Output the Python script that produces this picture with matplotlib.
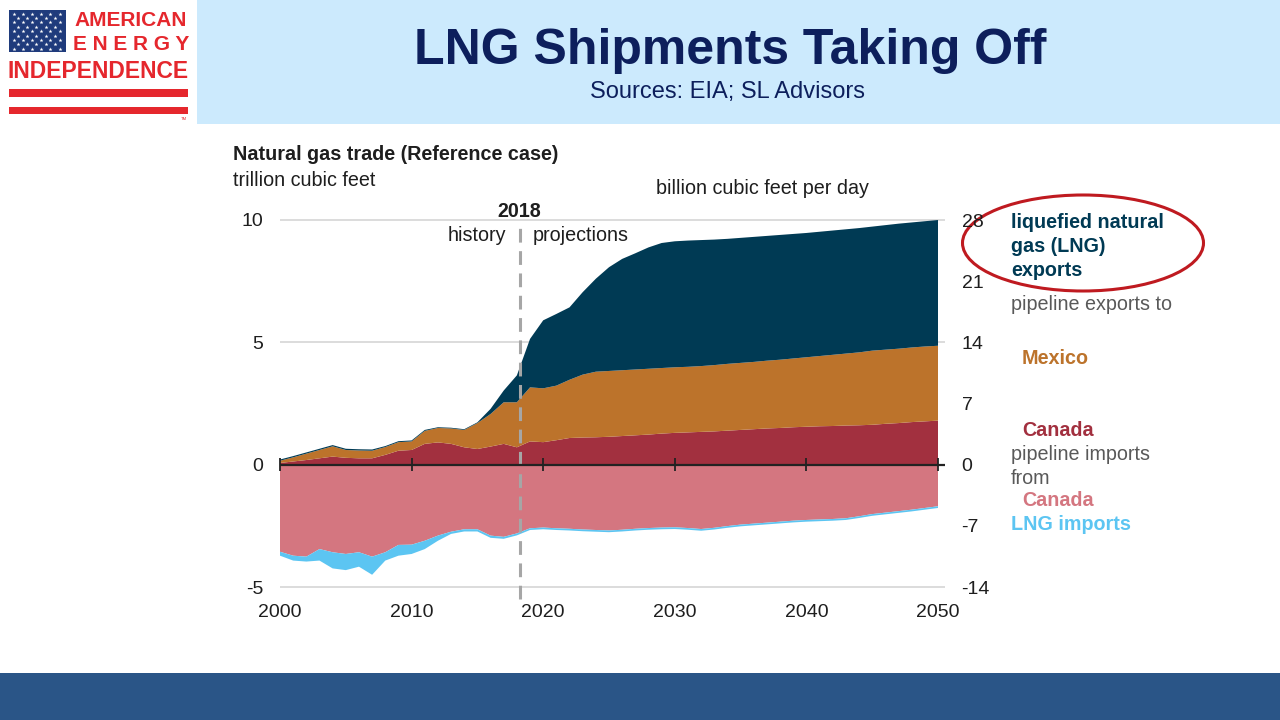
import numpy as np
import matplotlib
matplotlib.use('Agg')
import matplotlib.pyplot as plt
from matplotlib.patches import Rectangle, Ellipse

# natural gas trade, trillion cubic feet
years = np.arange(2000, 2051)
canada_exports = [0.07, 0.13, 0.19, 0.26, 0.33, 0.28, 0.26, 0.26, 0.40, 0.57,
                  0.60, 0.85, 0.91, 0.85, 0.71, 0.64, 0.74, 0.85, 0.71, 0.95,
                  0.92, 1.00, 1.09, 1.11, 1.12, 1.14, 1.17, 1.20, 1.23, 1.27,
                  1.30, 1.32, 1.34, 1.36, 1.39, 1.42, 1.45, 1.48, 1.50, 1.53,
                  1.55, 1.57, 1.58, 1.60, 1.61, 1.63, 1.67, 1.70, 1.74, 1.77,
                  1.80]
mexico_exports = [0.09, 0.17, 0.26, 0.34, 0.42, 0.32, 0.32, 0.31, 0.32, 0.35,
                  0.35, 0.53, 0.59, 0.63, 0.71, 1.06, 1.33, 1.70, 1.84, 2.21,
                  2.20, 2.23, 2.38, 2.57, 2.68, 2.69, 2.69, 2.69, 2.69, 2.68,
                  2.68, 2.68, 2.69, 2.71, 2.73, 2.74, 2.75, 2.77, 2.79, 2.81,
                  2.84, 2.87, 2.91, 2.94, 2.98, 3.03, 3.03, 3.04, 3.05, 3.06,
                  3.06]
lng_exports = [0.05, 0.05, 0.05, 0.05, 0.05, 0.05, 0.05, 0.05, 0.04, 0.04,
               0.04, 0.04, 0.03, 0.03, 0.03, 0.03, 0.21, 0.48, 1.10, 1.98,
               2.78, 2.93, 2.96, 3.37, 3.80, 4.24, 4.55, 4.75, 4.96, 5.11,
               5.15, 5.16, 5.15, 5.13, 5.11, 5.11, 5.11, 5.10, 5.10, 5.09,
               5.08, 5.08, 5.08, 5.08, 5.08, 5.07, 5.09, 5.11, 5.11, 5.12,
               5.14]
canada_imports = [3.56, 3.72, 3.76, 3.45, 3.58, 3.65, 3.58, 3.76, 3.58, 3.28,
                  3.27, 3.11, 2.90, 2.74, 2.64, 2.64, 2.90, 2.95, 2.81, 2.60,
                  2.57, 2.60, 2.62, 2.65, 2.67, 2.69, 2.66, 2.62, 2.59, 2.57,
                  2.56, 2.59, 2.63, 2.58, 2.51, 2.45, 2.41, 2.37, 2.33, 2.29,
                  2.26, 2.24, 2.22, 2.19, 2.11, 2.02, 1.96, 1.90, 1.84, 1.77,
                  1.70]
lng_imports = [0.16, 0.20, 0.20, 0.47, 0.66, 0.66, 0.59, 0.74, 0.34, 0.44,
               0.38, 0.34, 0.21, 0.09, 0.09, 0.09, 0.09, 0.08, 0.08, 0.07,
               0.07, 0.07, 0.07, 0.07, 0.07, 0.07, 0.07, 0.07, 0.07, 0.07,
               0.07, 0.07, 0.07, 0.07, 0.07, 0.07, 0.07, 0.07, 0.07, 0.07,
               0.07, 0.07, 0.07, 0.07, 0.07, 0.07, 0.07, 0.07, 0.07, 0.07,
               0.07]
left_ticks = [-5, 0, 5, 10]
right_ticks = [-14, -7, 0, 7, 14, 21, 28]
x_ticks = [2000, 2010, 2020, 2030, 2040, 2050]
last_history = 2018.2

c_lng = '#003a54'
c_mex = '#bc732b'
c_can = '#a2303f'
c_can_imp = '#d47680'
c_lng_imp = '#5cc5f2'
c_text = '#1e1e1e'
c_gray = '#595959'

plt.rcParams['font.family'] = ['Liberation Sans', 'DejaVu Sans']

fig = plt.figure(figsize=(12.8, 7.2), dpi=100)

# page decoration in pixel coordinates
deco = fig.add_axes([0, 0, 1, 1], zorder=0)
deco.set_xlim(0, 1280)
deco.set_ylim(720, 0)
deco.axis('off')
deco.add_patch(Rectangle((197, 0), 1083, 124, color='#cceafd', lw=0))
deco.add_patch(Rectangle((0, 673), 1280, 47, color='#2a5587', lw=0))

# logo
red = '#e5272d'
deco.add_patch(Rectangle((9, 10), 57, 42, color='#1f3b7c', lw=0))
for r in range(9):
    n = 6 if r % 2 == 0 else 5
    off = 0 if r % 2 == 0 else 4.5
    xs = 13.5 + off + 9.2 * np.arange(n)
    deco.scatter(xs, np.full(n, 13.5 + r * 4.4), marker='*', s=9, color='white', lw=0)
deco.text(131, 20, 'AMERICAN', color=red, fontsize=15, fontweight='bold',
          ha='center', va='center')
deco.text(131, 44, 'E N E R G Y', color=red, fontsize=15, fontweight='bold',
          ha='center', va='center')
deco.text(98, 72, 'INDEPENDENCE', color=red, fontsize=16.5, fontweight='bold',
          ha='center', va='center')
deco.add_patch(Rectangle((9, 89), 179, 8, color=red, lw=0))
deco.add_patch(Rectangle((9, 107), 179, 7, color=red, lw=0))
deco.text(184, 119, 'TM', color=red, fontsize=3, ha='center', va='center')

# title
deco.text(730, 51, 'LNG Shipments Taking Off', color='#0d1f5c', fontsize=36,
          fontweight='bold', ha='center', va='center')
deco.text(728, 92, 'Sources: EIA; SL Advisors', color='#0d1f5c', fontsize=17,
          ha='center', va='center')

# chart labels
fs = 14.2
deco.text(233, 154, 'Natural gas trade (Reference case)', color=c_text, fontsize=fs,
          fontweight='bold', va='center')
deco.text(233, 181, 'trillion cubic feet', color=c_text, fontsize=fs, va='center')
deco.text(656, 188, 'billion cubic feet per day', color=c_text, fontsize=fs, va='center')

# series labels on the right
labels = [
    (1011, 222, 'liquefied natural', c_lng, 'bold'),
    (1011, 246, 'gas (LNG)', c_lng, 'bold'),
    (1011, 270, 'exports', c_lng, 'bold'),
    (1011, 304, 'pipeline exports to', c_gray, 'normal'),
    (1022, 359, 'Mexico', c_mex, 'bold'),
    (1022, 430, 'Canada', c_can, 'bold'),
    (1011, 454, 'pipeline imports', c_gray, 'normal'),
    (1011, 478, 'from', c_gray, 'normal'),
    (1022, 501, 'Canada', c_can_imp, 'bold'),
    (1011, 525, 'LNG imports', c_lng_imp, 'bold'),
]
for x, y, s, c, w in labels:
    deco.text(x, y, s, color=c, fontsize=14.2, fontweight=w, va='center')
deco.add_patch(Ellipse((1083, 243), 241, 96, fill=False, edgecolor='#bf1a20', lw=2.2))

# main chart
ax = fig.add_axes([280 / 1280, 133 / 720, 658 / 1280, 367 / 720], zorder=1)
ax.set_facecolor('none')
ax.set_xlim(2000, 2050)
ax.set_ylim(-5, 10)

ax.hlines([10, 5, -5], 2000, 2050.55, color='#d9d9d9', lw=1.3, clip_on=False, zorder=0)
ax.stackplot(years, canada_exports, mexico_exports, lng_exports,
             colors=[c_can, c_mex, c_lng], lw=0, zorder=1)
ax.stackplot(years, -np.array(canada_imports), -np.array(lng_imports),
             colors=[c_can_imp, c_lng_imp], lw=0, zorder=1)
ax.hlines(0, 2000, 2050.55, color='#222222', lw=1.6, clip_on=False, zorder=3)
ax.vlines(x_ticks, -0.26, 0.26, color='#222222', lw=1.3, zorder=3, clip_on=False)

ax.plot([last_history, last_history], [-5.5, 9.93], color='#a6a6a6', lw=2.2,
        dashes=(4.5, 2.8), clip_on=False, zorder=2)
ax.text(last_history, 10.36, '2018', fontsize=fs, fontweight='bold', color=c_text,
        ha='center', va='center')
ax.text(last_history - 1.0, 9.38, 'history', fontsize=fs, color=c_text,
        ha='right', va='center')
ax.text(last_history + 1.0, 9.38, 'projections', fontsize=fs, color=c_text,
        ha='left', va='center')

for s in ax.spines.values():
    s.set_visible(False)
ax.set_xticks(x_ticks)
ax.set_xticklabels([str(t) for t in x_ticks])
ax.set_yticks(left_ticks)
ax.set_yticklabels([str(t) for t in left_ticks])
ax.tick_params(axis='x', length=0, pad=12, labelsize=14, labelcolor=c_text)
ax.tick_params(axis='y', length=0, pad=12, labelsize=14, labelcolor=c_text)

ax2 = ax.twinx()
ax2.set_ylim(-14, 28)
ax2.set_yticks(right_ticks)
ax2.set_yticklabels([str(t) for t in right_ticks])
ax2.tick_params(axis='y', length=0, pad=17, labelsize=14, labelcolor=c_text)
for s in ax2.spines.values():
    s.set_visible(False)

fig.savefig('out.png', dpi=100)
